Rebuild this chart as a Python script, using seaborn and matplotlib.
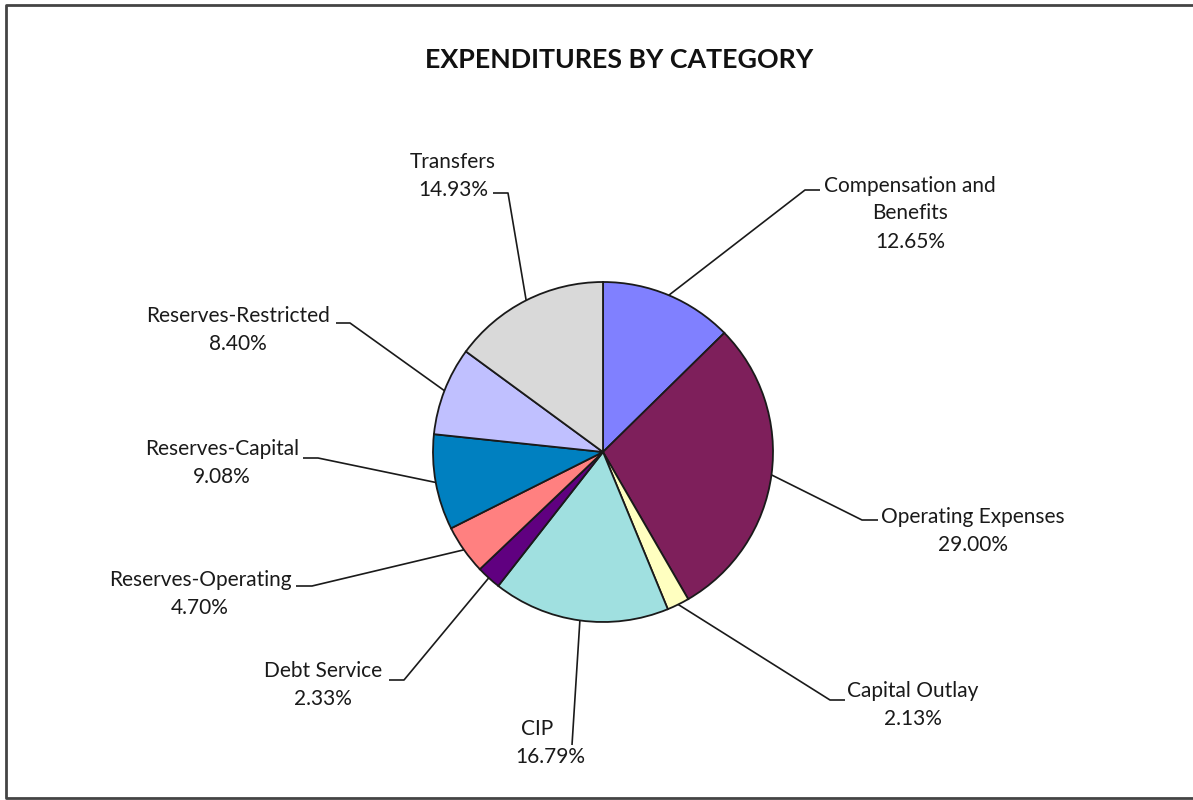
import numpy as np
import matplotlib
matplotlib.use("Agg")
import matplotlib.pyplot as plt
import seaborn as sns

categories = ["Compensation and\nBenefits", "Operating Expenses", "Capital Outlay", "CIP",
              "Debt Service", "Reserves-Operating", "Reserves-Capital",
              "Reserves-Restricted", "Transfers"]
values = [12.65, 29.00, 2.13, 16.79, 2.33, 4.70, 9.08, 8.40, 14.93]
pct_labels = ["12.65%", "29.00%", "2.13%", "16.79%", "2.33%", "4.70%", "9.08%", "8.40%", "14.93%"]
colors = ["#8080FF", "#7E1F5B", "#FFFFC0", "#A0E0E0", "#600080", "#FF8080",
          "#0080C0", "#C0C0FF", "#D9D9D9"]

sns.set_theme(style="white")
plt.rcParams['font.family'] = ['Lato', 'DejaVu Sans']

W, H = 1193, 800
fig = plt.figure(figsize=(W / 100, H / 100), dpi=100)
ax = fig.add_axes([0, 0, 1, 1])

cx, cy, r = 603, H - 452, 170
wedges, _ = ax.pie(values, colors=colors, startangle=90, counterclock=False,
                   center=(cx, cy), radius=r, frame=True,
                   wedgeprops=dict(edgecolor="#1a1a1a", linewidth=1.3))
ax.set_xlim(0, W)
ax.set_ylim(0, H)
ax.set_aspect('equal')
ax.axis('off')

# layout: elbow point (px), stub end x, text anchor (px)
layout = [
    ((805, 190), 820, (910, 186)),
    ((862, 520), 878, (973, 517)),
    ((830, 700), 845, (913, 691)),
    ((572, 745), 572, (537, 729)),
    ((404, 680), 389, (323, 671)),
    ((312, 586), 296, (200, 580)),
    ((318, 458), 303, (222, 449)),
    ((350, 323), 336, (238, 316)),
    ((508, 193), 493, (453, 162)),
]

for w, name, pct, (elbow, stubx, tpos) in zip(wedges, categories, pct_labels, layout):
    ang = np.deg2rad((w.theta1 + w.theta2) / 2)
    sx, sy = cx + r * np.cos(ang), cy + r * np.sin(ang)
    ex, ey = elbow[0], H - elbow[1]
    ax.plot([sx, ex, stubx], [sy, ey, ey], color="#1a1a1a", lw=1.2, solid_capstyle='butt')
    lines = name.split("\n")
    tx, ty = tpos
    for i, ln in enumerate(lines):
        ax.text(tx, H - (ty + 27 * i), ln, ha='center', va='center', fontsize=15, color="#1a1a1a")
    px = 550 if name == "CIP" else tx
    ax.text(px, H - (ty + 27 * len(lines) + (2 if len(lines) > 1 else 1)),
            pct, ha='center', va='center', fontsize=15, color="#1a1a1a")

ax.text(619, H - 60, "EXPENDITURES BY CATEGORY", ha='center', va='center',
        fontsize=19.3, fontweight='bold', color="#111111")

# chart border
ax.plot([1200, 6, 6, 1200], [H - 5, H - 5, H - 798, H - 798], color="#444444", lw=2)

fig.savefig("out.png", dpi=100)
